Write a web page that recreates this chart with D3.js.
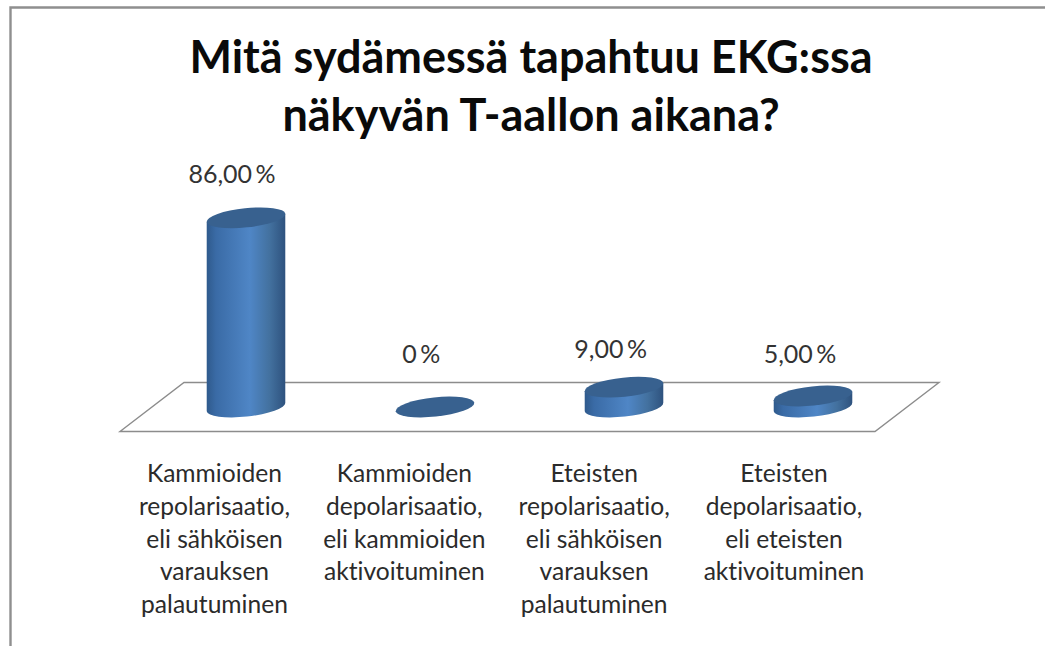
<!DOCTYPE html>
<html><head><meta charset="utf-8">
<script src="https://cdnjs.cloudflare.com/ajax/libs/d3/7.8.5/d3.min.js"></script>
<style>html,body{margin:0;padding:0;background:#fff}svg{display:block}text{font-family:Lato,Carlito,sans-serif;font-variant-ligatures:none}</style>
</head><body><svg id="c" width="1045" height="646"></svg>
<script>
const titleLines = ["Mitä sydämessä tapahtuu EKG:ssa","näkyvän T-aallon aikana?"];
const categories = ["A","B","C","D"];
const categoryLabels = [
 ["Kammioiden","repolarisaatio,","eli sähköisen","varauksen","palautuminen"],
 ["Kammioiden","depolarisaatio,","eli kammioiden","aktivoituminen"],
 ["Eteisten","repolarisaatio,","eli sähköisen","varauksen","palautuminen"],
 ["Eteisten","depolarisaatio,","eli eteisten","aktivoituminen"]];
const values = [86,0,9,5];
const valueLabels = ["86,00 %","0 %","9,00 %","5,00 %"];

const svg = d3.select("#c");
const W=1045,H=646;
const x = d3.scalePoint().domain(categories).range([246,813]);
const xText = d3.scalePoint().domain(categories).range([214.5,784]);
const xValue = d3.scalePoint().domain(categories).range([232,800]);
const y = d3.scaleLinear().domain([0,100]).range([407,187]);
const rx=39.5, ry=9.6, tiltDeg=-6, tilt=tiltDeg*Math.PI/180;
const rows = categories.map((c,i)=>({c,v:values[i],label:valueLabels[i],lines:categoryLabels[i]}));

// frame
svg.append("path").attr("d",d3.line()([[10.5,H],[10.5,7.5],[W,7.5]])).attr("fill","none").attr("stroke","#8f8f8f").attr("stroke-width",2.4);

// title
svg.append("g").selectAll("text").data(titleLines).join("text")
 .attr("x",531).attr("y",(d,i)=>73+i*58).attr("text-anchor","middle")
 .attr("font-size",45).attr("font-weight",700).attr("fill","#0a0a0a").text(d=>d);

// floor
const fy0=y(0)+24.5, fy1=y(0)-24.5;
svg.append("path").attr("d",d3.line()([[120,fy0],[875,fy0],[939,fy1],[184,fy1]])+"Z")
 .attr("fill","#fff").attr("stroke","#8c8c8c").attr("stroke-width",1.4);

// gradient
const defs=svg.append("defs");
const g=defs.append("linearGradient").attr("id","cyl").attr("x1",0).attr("x2",1).attr("y1",0).attr("y2",0);
[[0,"#2f5a8c"],[0.12,"#3a6ba6"],[0.55,"#4f86c6"],[0.8,"#43719f"],[1,"#2e527e"]]
 .forEach(s=>g.append("stop").attr("offset",s[0]).attr("stop-color",s[1]));

const ex=rx*Math.cos(tilt), ey=rx*Math.sin(tilt);
const bars=svg.append("g").selectAll("g").data(rows).join("g");
bars.filter(d=>d.v>0).append("path").attr("fill","url(#cyl)")
 .attr("d",d=>{
   const cx=x(d.c), t=y(d.v), b=y(0);
   return `M${cx-ex},${t-ey} L${cx-ex},${b-ey} A${rx},${ry} ${tiltDeg} 0 0 ${cx+ex},${b+ey} L${cx+ex},${t+ey} Z`;
 });
bars.append("ellipse").attr("rx",rx).attr("ry",ry).attr("fill","#38618f")
 .attr("transform",d=>`translate(${x(d.c)},${y(d.v)}) rotate(${tiltDeg})`);

// value labels
const labelGap = {A:34.5,B:44,C:29,D:33};
svg.append("g").selectAll("text").data(rows).join("text")
 .attr("x",d=>xValue(d.c))
 .attr("y",d=>y(d.v)-labelGap[d.c])
 .attr("text-anchor","middle").attr("font-size",25).attr("word-spacing","-3px").attr("fill","#333").text(d=>d.label);

// category labels
const lab=svg.append("g").selectAll("text").data(rows).join("text")
 .attr("text-anchor","middle").attr("font-size",24.6).attr("fill","#2b2b2b");
lab.each(function(r){
  d3.select(this).selectAll("tspan").data(r.lines).join("tspan")
   .attr("x",xText(r.c)).attr("y",(d,j)=>482+j*32.8).text(d=>d);
});
</script></body></html>
